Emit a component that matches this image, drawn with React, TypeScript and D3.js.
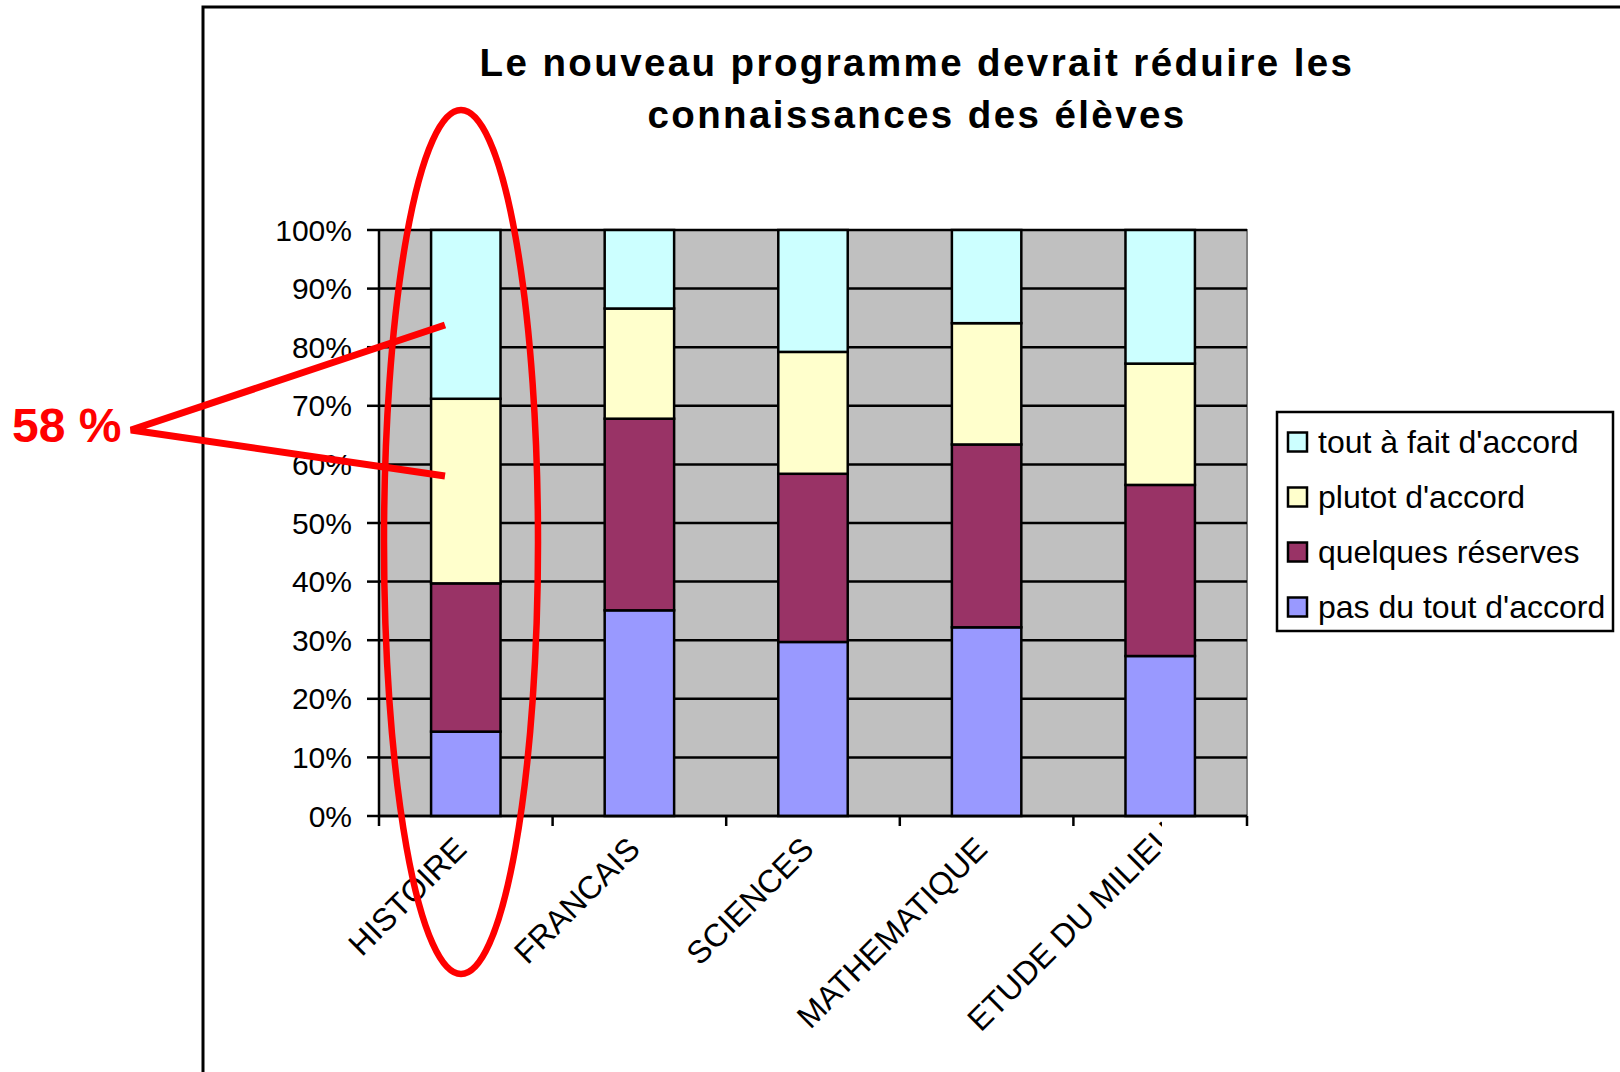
import React from "react";
import * as d3 from "d3";

const categories = ["HISTOIRE", "FRANCAIS", "SCIENCES", "MATHEMATIQUE", "ETUDE DU MILIEU"];
const seriesNames = ["pas du tout d'accord", "quelques réserves", "plutot d'accord", "tout à fait d'accord"];
const pasDuTout = [14.4, 35.1, 29.7, 32.2, 27.3];
const quelquesReserves = [25.3, 32.7, 28.7, 31.2, 29.2];
const plutotAccord = [31.5, 18.8, 20.8, 20.7, 20.7];
const toutAFait = [28.8, 13.4, 20.8, 15.9, 22.8];
const seriesColors = ["#9999FF", "#993366", "#FFFFCC", "#CCFFFF"];
const yTicks = [0, 10, 20, 30, 40, 50, 60, 70, 80, 90, 100];
const titleLines = ["Le nouveau programme devrait réduire les", "connaissances des élèves"];
const annotationText = "58 %";

const FONT = "'Liberation Sans', Arial, sans-serif";

export default function App() {
  const W = 1620, H = 1072;
  const left = 379, right = 1247, top = 230, bottom = 816;

  const x = d3.scaleBand<string>().domain(categories).range([left, right]).paddingInner(0.6).paddingOuter(0.3);
  const y = d3.scaleLinear().domain([0, 100]).range([bottom, top]);

  const rows = categories.map((c, i) => {
    const raw = [pasDuTout[i], quelquesReserves[i], plutotAccord[i], toutAFait[i]];
    const s = d3.sum(raw);
    const o: any = { cat: c };
    raw.forEach((v, k) => (o["s" + k] = (v / s) * 100));
    return o;
  });
  const keys = ["s0", "s1", "s2", "s3"];
  const stacked = d3.stack<any>().keys(keys)(rows);

  const step = x.step();
  const boundaries = d3.range(categories.length + 1).map((i) => left + i * step);

  const legendOrder = [3, 2, 1, 0];
  const legendY = d3.scalePoint<number>().domain(legendOrder).range([442, 607]);

  return (
    <div style={{ position: "absolute", left: 0, top: 0 }}>
      <svg width={W} height={H} style={{ display: "block", background: "#fff" }}>
        <defs>
          <clipPath id="lblclip">
            <rect x={0} y={0} width={1162} height={H} />
          </clipPath>
        </defs>
        {/* outer chart frame */}
        <path d={`M203,${H} L203,7 L${W},7`} fill="none" stroke="#000" strokeWidth={3} />

        {/* title */}
        {titleLines.map((t, i) => (
          <text key={i} x={917} y={76 + i * 52} textAnchor="middle" fontFamily={FONT} fontWeight="bold" fontSize={38.5} letterSpacing={2.4} fill="#000">
            {t}
          </text>
        ))}

        {/* plot area */}
        <rect x={left} y={top} width={right - left} height={bottom - top} fill="#C0C0C0" stroke="#808080" strokeWidth={2} />

        {/* gridlines */}
        {yTicks.map((t) => (
          <line key={t} x1={left} x2={right} y1={y(t)} y2={y(t)} stroke="#000" strokeWidth={2.5} />
        ))}

        {/* bars */}
        {stacked.map((layer, k) => (
          <g key={k}>
            {layer.map((d, i) => (
              <rect
                key={i}
                x={x(categories[i])}
                y={y(d[1])}
                width={x.bandwidth()}
                height={y(d[0]) - y(d[1])}
                fill={seriesColors[k]}
                stroke="#000"
                strokeWidth={2.5}
              />
            ))}
          </g>
        ))}

        {/* axes */}
        <line x1={left} x2={left} y1={top} y2={bottom} stroke="#000" strokeWidth={2.5} />
        <line x1={left} x2={right} y1={bottom} y2={bottom} stroke="#000" strokeWidth={2.5} />
        {yTicks.map((t) => (
          <g key={t}>
            <line x1={left - 12} x2={left} y1={y(t)} y2={y(t)} stroke="#000" strokeWidth={2.5} />
            <text x={352} y={y(t) + 10.5} textAnchor="end" fontFamily={FONT} fontSize={30} fill="#000">
              {t}%
            </text>
          </g>
        ))}
        {boundaries.map((bx, i) => (
          <line key={i} x1={bx} x2={bx} y1={bottom} y2={bottom + 10} stroke="#000" strokeWidth={2.5} />
        ))}

        {/* x labels */}
        {categories.map((c, i) => {
          const cx = (x(c) as number) + x.bandwidth() / 2;
          const last = i === categories.length - 1;
          return (
            <g key={c} clipPath={last ? "url(#lblclip)" : undefined}>
              <text
                transform={`translate(${cx + 2.5},${851}) rotate(-45)`}
                x={last ? 22 : 0}
                textAnchor="end"
                fontFamily={FONT}
                fontSize={32}
                fill="#000"
              >
                {c}
              </text>
            </g>
          );
        })}

        {/* legend */}
        <rect x={1277} y={412} width={336} height={219} fill="#fff" stroke="#000" strokeWidth={2.5} />
        {legendOrder.map((k) => (
          <g key={k}>
            <rect x={1288} y={(legendY(k) as number) - 9.5} width={19} height={19} fill={seriesColors[k]} stroke="#000" strokeWidth={2.5} />
            <text x={1318} y={(legendY(k) as number) + 11} fontFamily={FONT} fontSize={32} fill="#000">
              {seriesNames[k]}
            </text>
          </g>
        ))}

        {/* red annotation */}
        <ellipse cx={461} cy={542} rx={77} ry={432} fill="none" stroke="#FF0000" strokeWidth={6.5} />
        <path d="M445,325 L131,430 L445,476" fill="none" stroke="#FF0000" strokeWidth={7} />
        <text x={12} y={442} fontFamily={FONT} fontWeight="bold" fontSize={48} fill="#FF0000">
          {annotationText}
        </text>
      </svg>
    </div>
  );
}
